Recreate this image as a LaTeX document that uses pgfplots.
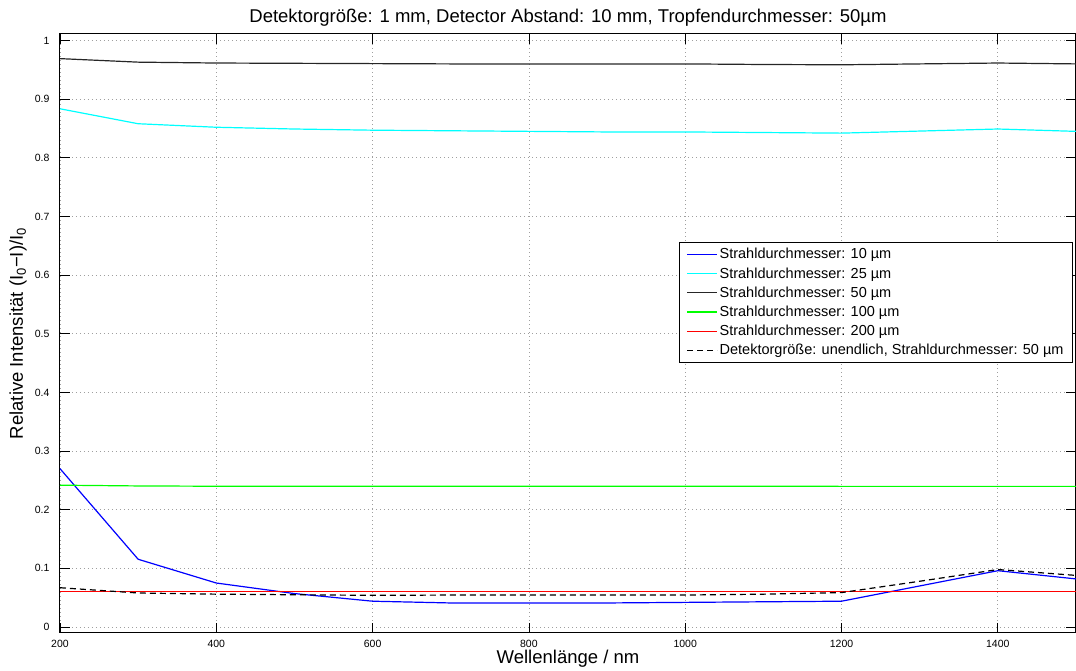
\documentclass[border=0pt]{standalone}
\usepackage{pgfplots}
\pgfplotsset{compat=1.18}
\usepackage{fontspec}
\setmainfont{Liberation Sans}

\definecolor{mblue}{rgb}{0,0,1}
\definecolor{mcyan}{rgb}{0,1,1}
\definecolor{mgray}{rgb}{0.15,0.15,0.15}
\definecolor{mgreen}{rgb}{0,1,0}
\definecolor{mred}{rgb}{1,0,0}

\pgfplotstableread{
x     d10     d25     d50     d100    d200    dinf
200   0.270   0.8835  0.969   0.2418  0.0600  0.067
300   0.1155  0.858   0.963   0.2405  0.0600  0.058
400   0.075   0.852   0.9615  0.2400  0.0600  0.056
500   0.057   0.849   0.961   0.2400  0.0600  0.055
600   0.044   0.847   0.9605  0.2400  0.0600  0.054
700   0.041   0.846   0.960   0.2400  0.0600  0.0545
800   0.041   0.845   0.960   0.2400  0.0600  0.0545
900   0.041   0.844   0.960   0.2400  0.0600  0.0545
1000  0.042   0.844   0.960   0.2400  0.0600  0.0545
1100  0.043   0.843   0.959   0.2400  0.0600  0.056
1200  0.044   0.842   0.9585  0.2398  0.0600  0.0587
1300  0.070   0.8455  0.960   0.2398  0.0600  0.078
1400  0.096   0.849   0.9615  0.2398  0.0600  0.098
1500  0.082   0.845   0.960   0.2398  0.0600  0.088
}\messdata

\begin{document}
\begin{tikzpicture}
\begin{axis}[
  at={(0pt,0pt)}, anchor=south west,
  scale only axis, width=1016pt, height=599pt,
  xmin=200, xmax=1500, ymin=-0.0102, ymax=1.011,
  xtick={200,400,...,1400},
  ytick={0,0.1,...,1},
  /pgf/number format/1000 sep={},
  /pgf/number format/assume math mode=true,
  tick align=inside, major tick length=10pt,
  tick style={black, line width=0.8pt},
  axis line style={black, line width=1pt},
  grid=major,
  major grid style={gray!75, line width=0.8pt, dash pattern=on 1pt off 3pt},
  ticklabel style={font=\fontsize{10.5}{12}\selectfont},
  xticklabel style={anchor=center, yshift=-10.5pt},
  yticklabel style={anchor=east, xshift=-7pt},
  title={Detektorgröße: 1 mm, Detector Abstand: 10 mm, Tropfendurchmesser: 50µm},
  title style={at={(axis description cs:0.5,1)}, anchor=center, yshift=10pt,
    font=\fontsize{18.5}{22}\selectfont},
  xlabel={Wellenlänge / nm},
  every axis x label/.style={at={(axis description cs:0.5,0)}, anchor=center,
    yshift=-26pt, font=\fontsize{18.5}{22}\selectfont},
  ylabel={Relative Intensität (I\textsubscript{0}−I)/I\textsubscript{0}},
  every axis y label/.style={at={(axis description cs:-0.0413,0.5)}, anchor=center,
    rotate=90, font=\fontsize{18.5}{22}\selectfont},
  legend cell align=left,
  legend image code/.code={\draw[#1, line width=1.2pt] (0pt,0pt) -- (30pt,0pt);},
  legend style={at={(rel axis cs:0.997,0.6528)}, anchor=north east,
    draw=black, line width=0.8pt, fill=white,
    font=\fontsize{14.5}{16}\selectfont,
    inner xsep=7pt, inner ysep=4pt, row sep=3.2pt},
]
\addplot[draw=mblue, line width=1.2pt] table[x=x, y=d10] {\messdata};
\addlegendentry{Strahldurchmesser: 10 µm}
\addplot[draw=mcyan, line width=1.2pt] table[x=x, y=d25] {\messdata};
\addlegendentry{Strahldurchmesser: 25 µm}
\addplot[draw=mgray, line width=1.2pt] table[x=x, y=d50] {\messdata};
\addlegendentry{Strahldurchmesser: 50 µm}
\addplot[draw=mgreen, line width=1.2pt] table[x=x, y=d100] {\messdata};
\addlegendentry{Strahldurchmesser: 100 µm}
\addplot[draw=mred, line width=1.2pt] table[x=x, y=d200] {\messdata};
\addlegendentry{Strahldurchmesser: 200 µm}
\addplot[draw=black, line width=1.2pt, dash pattern=on 6pt off 4pt] table[x=x, y=dinf] {\messdata};
\addlegendentry{Detektorgröße: unendlich, Strahldurchmesser: 50 µm}
\end{axis}
\pgfresetboundingbox
\useasboundingbox (-60pt,-38pt) rectangle (1016pt,633pt);
\end{tikzpicture}
\end{document}
